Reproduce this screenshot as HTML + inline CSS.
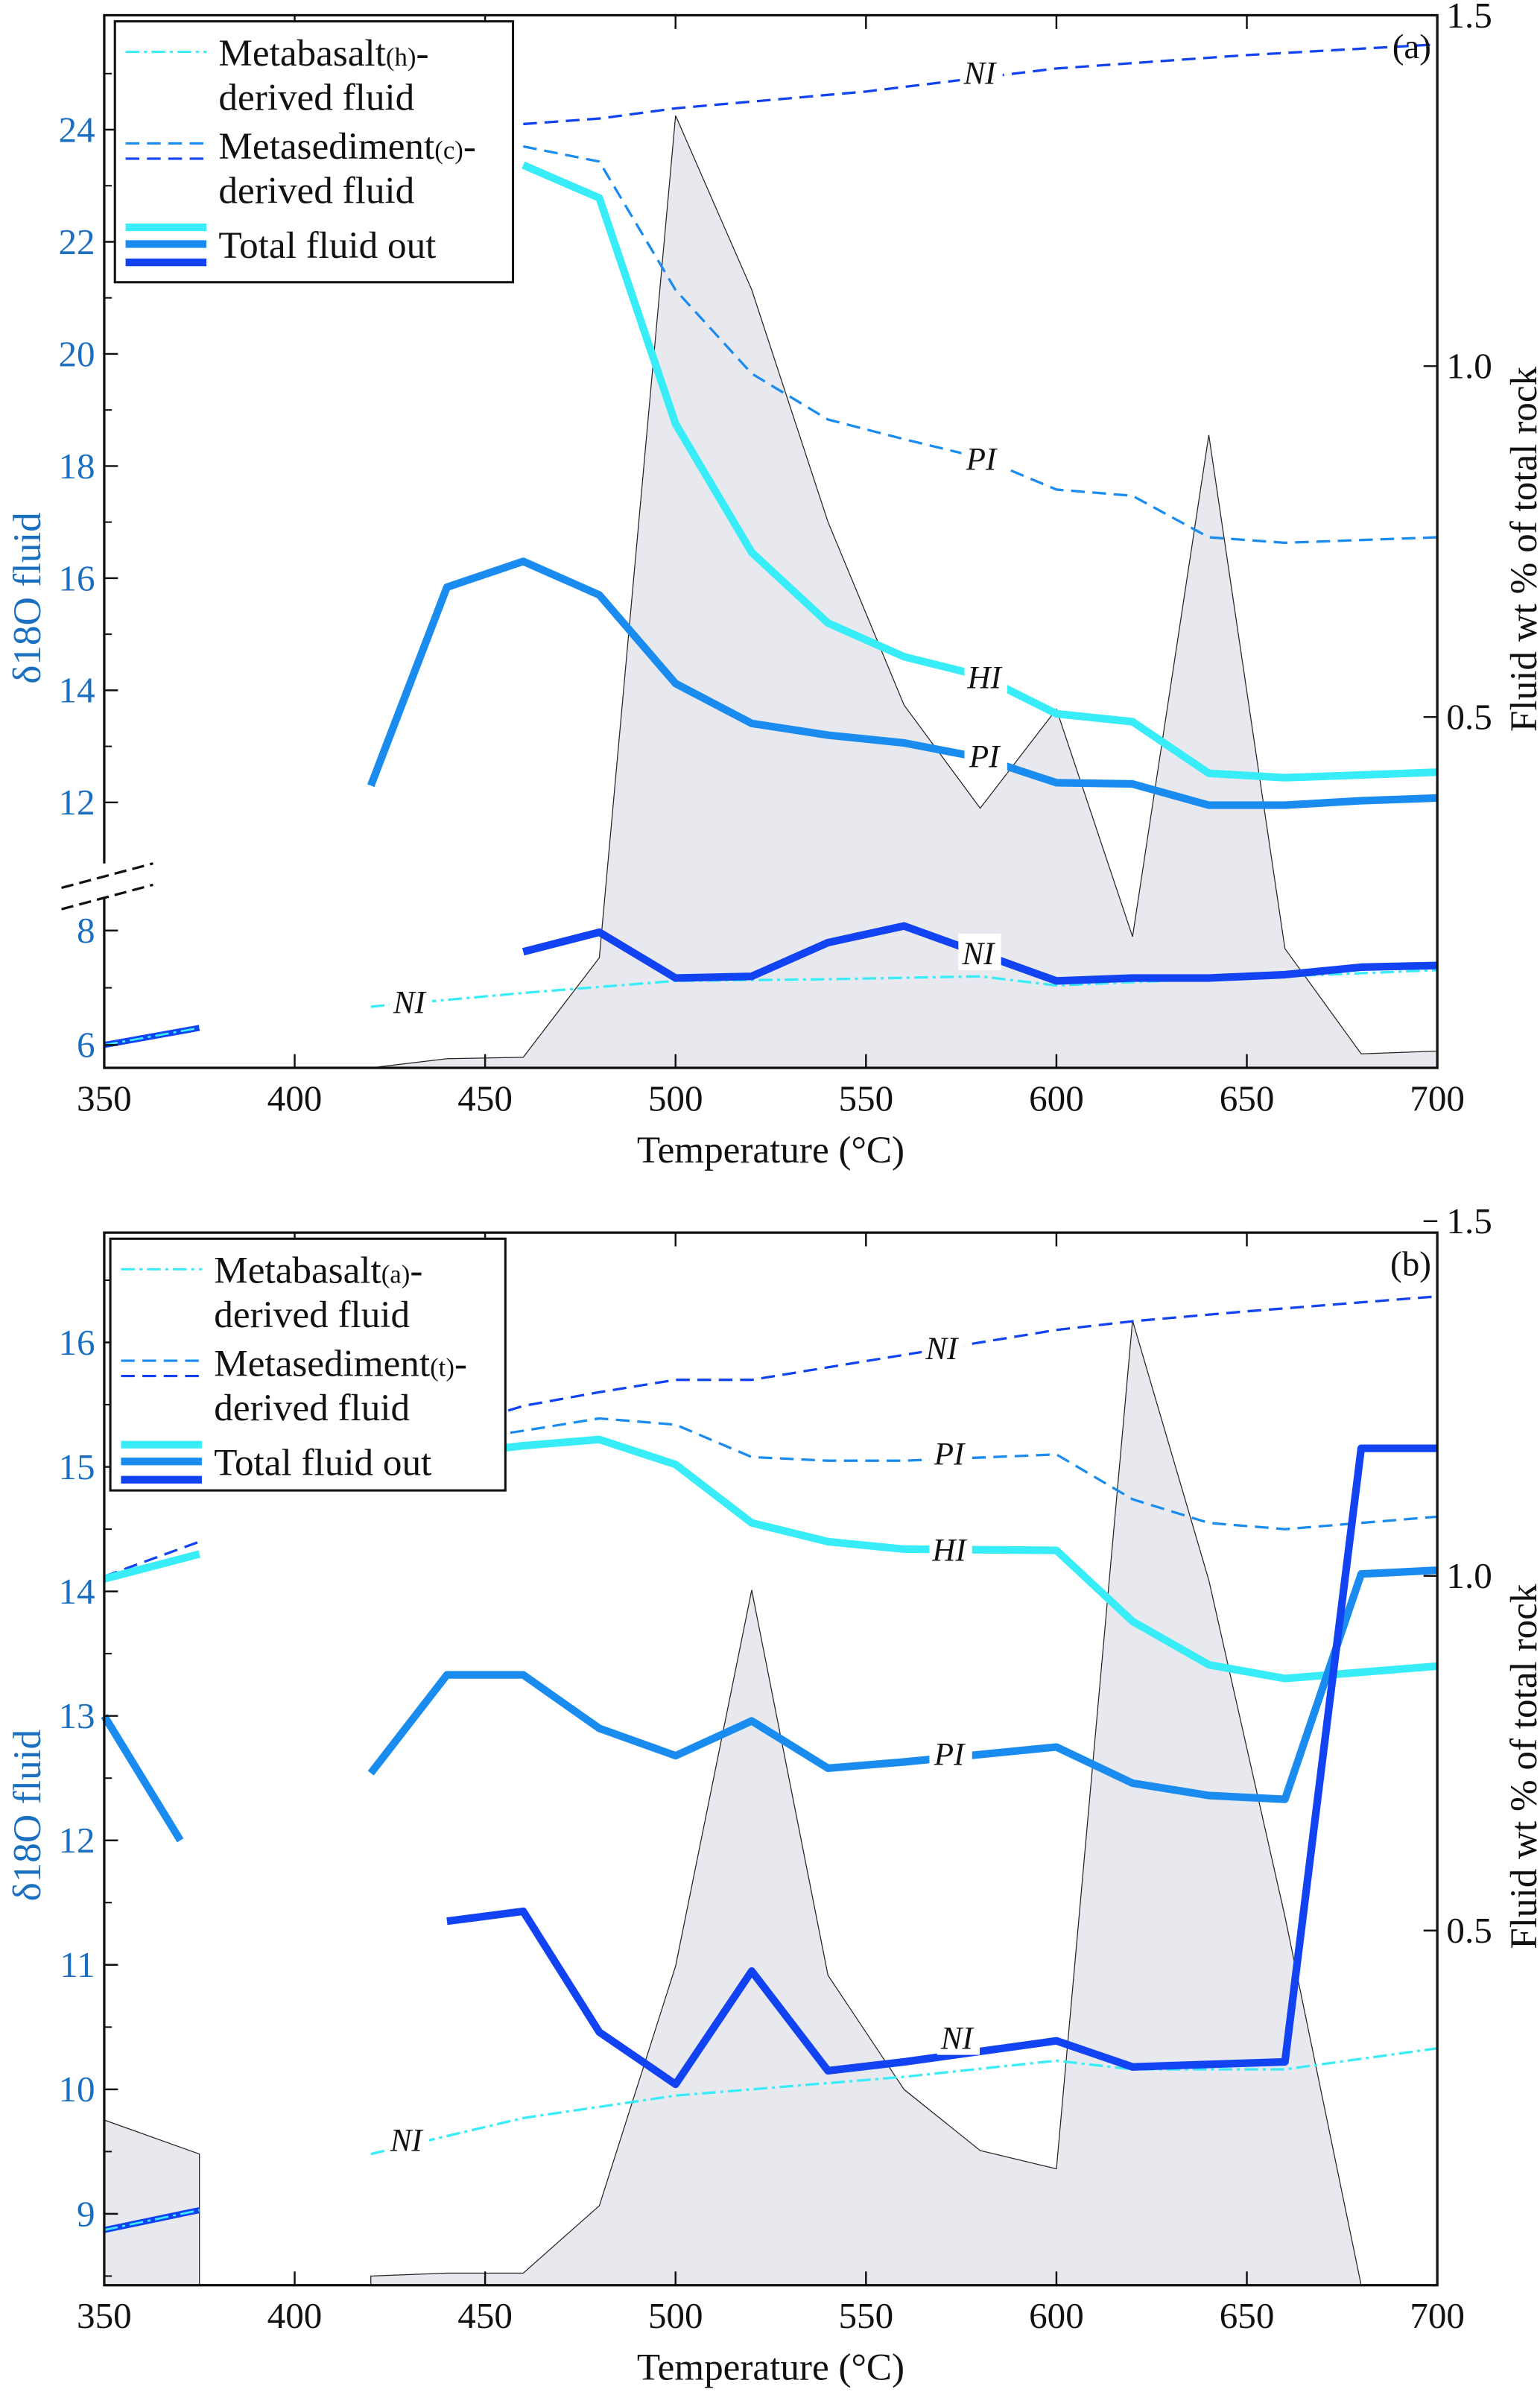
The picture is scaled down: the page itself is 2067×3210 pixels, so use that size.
<!DOCTYPE html>
<html><head><meta charset="utf-8"><style>
html,body{margin:0;padding:0;background:#fff}
svg{display:block}
svg text{font-family:"Liberation Serif","DejaVu Serif",serif}
</style></head><body>
<svg id="chart" width="2067" height="3210" viewBox="0 0 1009 1568" xmlns="http://www.w3.org/2000/svg" font-family="'Liberation Serif', 'DejaVu Serif', serif"></svg>
<script>
// ---- shared ----
const temps = [350,400,450,500,550,600,650,700];
// ---- panel a data ----
const aHiT = [460,480,500,520,540,560,580,600,620,640,660,680,700];
const aHiV = [23.37,22.78,18.75,16.46,15.2,14.6,14.26,13.58,13.44,12.52,12.44,12.49,12.54];
const aPiT = [420,440,460,480,500,520,540,560,580,600,620,640,660,680,700];
const aPiV = [12.3,15.84,16.3,15.7,14.12,13.41,13.2,13.06,12.8,12.35,12.33,11.95,11.95,12.03,12.08];
const aNiT = [460,480,500,520,540,560,580,600,620,640,660,680,700];
const aNiV = [7.63,7.97,7.17,7.2,7.79,8.08,7.6,7.12,7.17,7.17,7.23,7.36,7.39];
const aNiLowT = [350,375];
const aNiLowV = [6.0,6.3];
const aBasT = [420,460,500,540,580,600,620,660,700];
const aBasV = [6.67,6.91,7.12,7.15,7.2,7.04,7.1,7.2,7.31];
const aSedNiT = [460,480,500,550,600,650,700];
const aSedNiV = [24.1,24.2,24.38,24.68,25.09,25.33,25.52];
const aSedPiT = [460,480,500,520,540,560,580,600,620,640,660,700];
const aSedPiV = [23.7,23.43,21.14,19.65,18.83,18.48,18.15,17.58,17.47,16.73,16.63,16.73];
const aFluidT = [420,440,460,480,500,520,540,560,580,600,620,640,660,680,700];
const aFluidV = [0,0.013,0.015,0.157,1.357,1.109,0.778,0.517,0.37,0.511,0.187,0.902,0.17,0.02,0.024];
const aLeftTicks = [6,8,12,14,16,18,20,22,24];
const rightTicks = [0.5,1.0,1.5];
// ---- panel b data ----
const bHiT = [350,375]; const bHiV = [14.1,14.3];
const bHi2T = [440,460,480,500,520,540,560,600,620,640,660,680,700];
const bHi2V = [15.1,15.17,15.22,15.02,14.55,14.4,14.34,14.33,13.76,13.41,13.3,13.35,13.4];
const bPiT = [350,370]; const bPiV = [13.0,12.0];
const bPi2T = [420,440,460,480,500,520,540,560,600,620,640,660,680,700];
const bPi2V = [12.54,13.33,13.33,12.9,12.68,12.96,12.58,12.63,12.75,12.46,12.36,12.33,14.14,14.17];
const bNiT = [350,375]; const bNiV = [8.87,9.03];
const bNi2T = [440,460,480,500,520,540,560,600,620,660,680,700];
const bNi2V = [11.35,11.43,10.46,10.04,10.95,10.15,10.22,10.39,10.18,10.22,15.15,15.15];
const bBasT = [420,460,500,520,560,600,620,660,700];
const bBasV = [9.48,9.77,9.95,10.0,10.1,10.23,10.16,10.16,10.33];
const bBasLowT = [350,375]; const bBasLowV = [8.87,9.03];
const bSedNiT = [350,375]; const bSedNiV = [14.12,14.4];
const bSedNi2T = [440,460,480,500,520,540,580,600,620,650,700];
const bSedNi2V = [15.3,15.49,15.6,15.7,15.7,15.8,16.0,16.1,16.17,16.25,16.37];
const bSedPi2T = [440,460,480,500,520,540,560,600,620,640,660,700];
const bSedPi2V = [15.2,15.29,15.39,15.34,15.08,15.05,15.05,15.1,14.74,14.55,14.5,14.6];
const bFluidT = [420,440,460,480,500,520,540,560,580,600,620,640,660,680,700];
const bFluidV = [0.013,0.017,0.017,0.112,0.45,0.98,0.437,0.276,0.19,0.164,1.36,0.994,0.52,0.0,0.0];
const bFluidLowT = [350,375]; const bFluidLowV = [0.233,0.185];
const bLeftTicks = [9,10,11,12,13,14,15,16];

const NS = "http://www.w3.org/2000/svg";
const FONT = "'Liberation Serif', 'DejaVu Serif', serif";
const svg = document.getElementById('chart');
const C_CY = '#38ecf8', C_MD = '#1a8cf0', C_DK = '#1243f2', C_TK = '#1b6fc0';
function mk(tag, attrs, parent){ const e=document.createElementNS(NS,tag); for(const k in attrs) e.setAttribute(k,attrs[k]); (parent||svg).appendChild(e); return e; }
const L=68, R=942;
function xs(t){ return L + (t-350)*(R-L)/350; }
function path(T,V,ys){ return T.map((t,i)=>(i?'L':'M')+xs(t).toFixed(1)+' '+ys(V[i]).toFixed(1)).join(' '); }
function line(T,V,ys,color,w,dash,name,g){
  const p=mk('path',{d:path(T,V,ys),fill:'none',stroke:color,'stroke-width':w,'stroke-linejoin':'round'},g);
  if(dash) p.setAttribute('stroke-dasharray',dash);
  
  
}
function area(T,V,yr,base,name,g){
  const d=path(T,V,yr)+' L'+xs(T[T.length-1])+' '+base+' L'+xs(T[0])+' '+base+' Z';
  const p=mk('path',{d:d,fill:'#e8e9ef',stroke:'#222','stroke-width':0.6},g);
  
  
}
function label(x,y,txt,name,g){
  const r=mk('rect',{x:x-13,y:y-13,width:28,height:24,fill:'#fff'},g);
  
  
  const t=mk('text',{x:x,y:y+7,'font-size':21,'font-style':'italic','text-anchor':'middle',fill:'#111','font-family':FONT},g);
  t.textContent=txt;
  
  
}
function txt(x,y,s,size,attrs,name,g){
  const t=mk('text',Object.assign({x:x,y:y,'font-size':size,fill:'#111','font-family':FONT},attrs||{}),g);
  t.textContent=s;
  
  
  return t;
}
function axes(g,top,bot,leftTicks,ys,minor,yr,panelLabel,titleY){
  const f=mk('rect',{x:L,y:top,width:R-L,height:bot-top,fill:'none',stroke:'#111','stroke-width':1.6},g);
   
  temps.forEach(t=>{
    const x=xs(t);
    mk('line',{x1:x,y1:bot,x2:x,y2:bot-9,stroke:'#111','stroke-width':1.2},g);
    mk('line',{x1:x,y1:top,x2:x,y2:top+9,stroke:'#111','stroke-width':1.2},g);
    txt(x,bot+28,String(t),24,{'text-anchor':'middle'},'x-tick-label-'+t,g);
  });
  minor.forEach(v=>{ const y=ys(v); mk('line',{x1:L,y1:y,x2:L+5,y2:y,stroke:'#111','stroke-width':1},g); });
  leftTicks.forEach(v=>{
    const y=ys(v);
    mk('line',{x1:L,y1:y,x2:L+9,y2:y,stroke:'#111','stroke-width':1.2},g);
    txt(L-6,y+8,String(v),24,{'text-anchor':'end',fill:C_TK},'y-tick-label-'+v,g);
  });
  rightTicks.forEach(v=>{
    const y=yr(v);
    mk('line',{x1:R,y1:y,x2:R-9,y2:y,stroke:'#111','stroke-width':1.2},g);
    txt(R+6,y+8,v.toFixed(1),24,{},'right-tick-label-'+v,g);
  });
  txt((L+R)/2,bot+62,'Temperature (°C)',25,{'text-anchor':'middle'},'x-axis-title',g);
  txt(0,0,'δ18O fluid',26,{'text-anchor':'middle',fill:C_TK,transform:'translate(26,'+titleY+') rotate(-90)'},'y-axis-title-left',g);
  txt(0,0,'Fluid wt % of total rock',25,{'text-anchor':'middle',transform:'translate(1007,'+((top+bot)/2+5)+') rotate(-90)'},'y-axis-title-right',g);
  txt(R-4,top+28,panelLabel,23,{'text-anchor':'end'},'panel-label',g);
}
function legend(g,x,y,w,h,basalt,sed){
  const r=mk('rect',{x:x,y:y,width:w,height:h,fill:'#fff',stroke:'#111','stroke-width':1.5},g);
   
  mk('line',{x1:x+7,y1:y+20,x2:x+60,y2:y+20,stroke:C_CY,'stroke-width':1.5,'stroke-dasharray':'9 3 2 3'},g);
  const t1=txt(x+68,y+29,'',25,{},'legend-entry-metabasalt',g);
  t1.innerHTML='Metabasalt<tspan font-size="17">('+basalt+')</tspan>-';
  txt(x+68,y+58,'derived fluid',25,{},'legend-entry-metabasalt-2',g);
  mk('line',{x1:x+7,y1:y+80,x2:x+60,y2:y+80,stroke:C_MD,'stroke-width':1.5,'stroke-dasharray':'9 5'},g);
  mk('line',{x1:x+7,y1:y+90,x2:x+60,y2:y+90,stroke:C_DK,'stroke-width':1.5,'stroke-dasharray':'9 5'},g);
  const t2=txt(x+68,y+90,'',25,{},'legend-entry-metasediment',g);
  t2.innerHTML='Metasediment<tspan font-size="17">('+sed+')</tspan>-';
  txt(x+68,y+119,'derived fluid',25,{},'legend-entry-metasediment-2',g);
  mk('line',{x1:x+7,y1:y+135,x2:x+60,y2:y+135,stroke:C_CY,'stroke-width':5},g);
  mk('line',{x1:x+7,y1:y+146,x2:x+60,y2:y+146,stroke:C_MD,'stroke-width':5},g);
  mk('line',{x1:x+7,y1:y+158,x2:x+60,y2:y+158,stroke:C_DK,'stroke-width':5},g);
  txt(x+68,y+155,'Total fluid out',25,{},'legend-entry-total',g);
}

// ===== panel a =====
(function(){
  const g=mk('g',{'font-family':FONT});  
  const top=10, bot=700;
  const ya=v=> v<=9 ? 610-(v-8)*37.5 : 526-(v-12)*36.75;
  const yr=v=> 700-v*460;
  area(aFluidT,aFluidV,yr,bot,'fluid-area-a',g);
  line(aSedNiT,aSedNiV,ya,C_DK,1.6,'9 5','metasediment-ni-a',g);
  line(aSedPiT,aSedPiV,ya,C_MD,1.6,'9 5','metasediment-pi-a',g);
  line(aBasT,aBasV,ya,C_CY,1.6,'9 3 2 3','metabasalt-ni-a',g);
  line(aHiT,aHiV,ya,C_CY,5,null,'total-hi-a',g);
  line(aPiT,aPiV,ya,C_MD,5,null,'total-pi-a',g);
  line(aNiT,aNiV,ya,C_DK,5,null,'total-ni-a',g);
  line(aNiLowT,aNiLowV,ya,C_DK,4,null,'total-low-a',g);
  line(aNiLowT,aNiLowV,ya,C_CY,1.3,'9 3 2 3','metabasalt-low-a',g);
  axes(g,top,bot,aLeftTicks,ya,[7,13,15,17,19,21,23,25],yr,'(a)',392);
  mk('rect',{x:36,y:566,width:70,height:22,fill:'#fff'},g);
  mk('line',{x1:40,y1:582,x2:100,y2:566,stroke:'#111','stroke-width':1.6,'stroke-dasharray':'8 4'},g);
  mk('line',{x1:40,y1:596,x2:100,y2:580,stroke:'#111','stroke-width':1.6,'stroke-dasharray':'8 4'},g);
  label(642,48,'NI','label-ni-sed-a',g);
  label(643,301,'PI','label-pi-sed-a',g);
  label(645,444,'HI','label-hi-a',g);
  label(645,496,'PI','label-pi-a',g);
  label(641,625,'NI','label-ni-a',g);
  label(268,657,'NI','label-ni-basalt-a',g);
  legend(g,75,14,261,171,'h','c');
})();

// ===== panel b =====
(function(){
  const g=mk('g',{'font-family':FONT});  
  const top=808, bot=1498;
  const yb=v=> 880-(v-16)*81.6;
  const yr=v=> 1498-v*465;
  area(bFluidT,bFluidV,yr,bot,'fluid-area-b',g);
  area(bFluidLowT,bFluidLowV,yr,bot,'fluid-area-b-low',g);
  line(bSedNiT,bSedNiV,yb,C_DK,1.6,'9 5','metasediment-low-b',g);
  line(bSedNi2T,bSedNi2V,yb,C_DK,1.6,'9 5','metasediment-ni-b',g);
  line(bSedPi2T,bSedPi2V,yb,C_MD,1.6,'9 5','metasediment-pi-b',g);
  line(bBasT,bBasV,yb,C_CY,1.6,'9 3 2 3','metabasalt-ni-b',g);
  line(bHiT,bHiV,yb,C_CY,5,null,'total-hi-low-b',g);
  line(bHi2T,bHi2V,yb,C_CY,5,null,'total-hi-b',g);
  line(bPiT,bPiV,yb,C_MD,5,null,'total-pi-low-b',g);
  line(bPi2T,bPi2V,yb,C_MD,5,null,'total-pi-b',g);
  line(bNi2T,bNi2V,yb,C_DK,5,null,'total-ni-b',g);
  line(bNiT,bNiV,yb,C_DK,4,null,'total-ni-low-b',g);
  line(bBasLowT,bBasLowV,yb,C_CY,1.3,'9 3 2 3','metabasalt-low-b',g);
  axes(g,top,bot,bLeftTicks,yb,[8.5,9.5,10.5,11.5,12.5,13.5,14.5,15.5,16.5],yr,'(b)',1190);
  label(617,884,'NI','label-ni-sed-b',g);
  label(622,953,'PI','label-pi-sed-b',g);
  label(622,1016,'HI','label-hi-b',g);
  label(622,1150,'PI','label-pi-b',g);
  label(627,1336,'NI','label-ni-b',g);
  label(266,1403,'NI','label-ni-basalt-b',g);
  legend(g,72,812,259,165,'a','t');
})();
</script>
</body></html>
